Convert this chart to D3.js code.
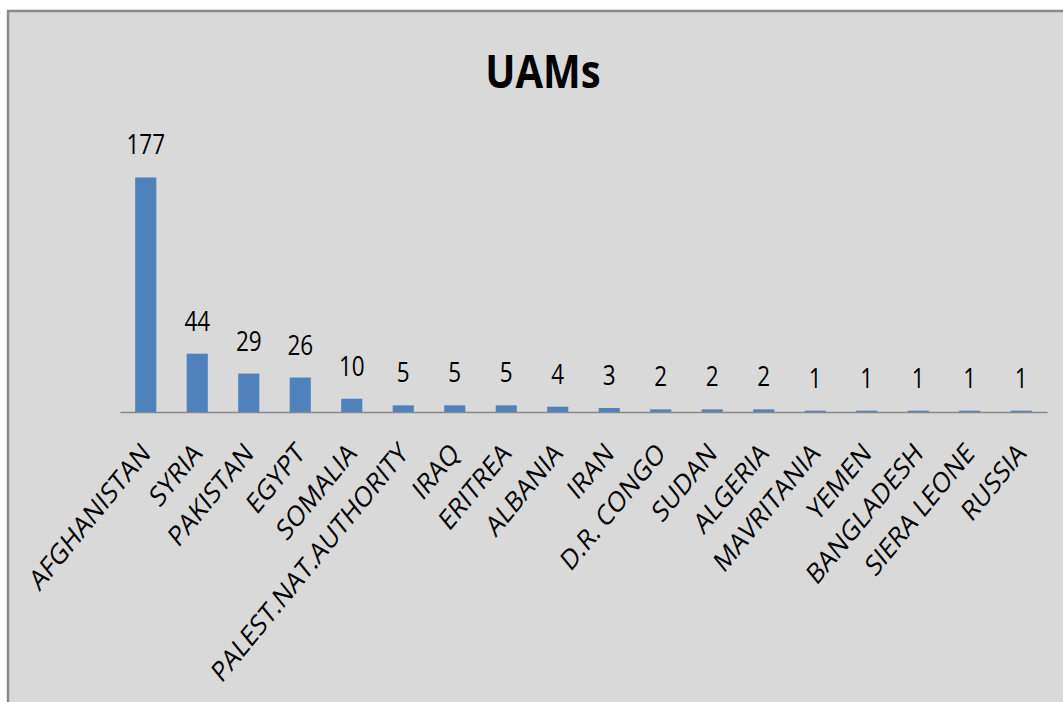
<!DOCTYPE html>
<html>
<head>
<meta charset="utf-8">
<script src="https://cdn.jsdelivr.net/npm/d3@7"></script>
<style>
  body { margin: 0; background: #fff; }
  text { font-family: "Open Sans", sans-serif; fill: #000; }
</style>
</head>
<body>
<div id="chart"></div>
<script>
(function () {
    'use strict';
    var width = 1063;
    var height = 702;

    var countries = ['AFGHANISTAN', 'SYRIA', 'PAKISTAN', 'EGYPT', 'SOMALIA',
        'PALEST.NAT.AUTHORITY', 'IRAQ', 'ERITREA', 'ALBANIA', 'IRAN',
        'D.R. CONGO', 'SUDAN', 'ALGERIA', 'MAVRITANIA', 'YEMEN',
        'BANGLADESH', 'SIERA LEONE', 'RUSSIA'];
    var uams = [177, 44, 29, 26, 10, 5, 5, 5, 4, 3, 2, 2, 2, 1, 1, 1, 1, 1];
    var title = 'UAMs';

    var data = countries.map(function (c, i) {
        return { name: c, value: uams[i] };
    });

    var svg = d3.select('#chart')
        .append('svg')
        .attr('width', width)
        .attr('height', height);

    // chart area background + top/left frame
    svg.append('rect')
        .attr('x', 8).attr('y', 11)
        .attr('width', width).attr('height', height)
        .attr('fill', '#d9d9d9');
    svg.append('line')
        .attr('x1', 7).attr('x2', width).attr('y1', 11).attr('y2', 11)
        .attr('stroke', '#8a8a8a').attr('stroke-width', 2.5);
    svg.append('line')
        .attr('x1', 8).attr('x2', 8).attr('y1', 10).attr('y2', height)
        .attr('stroke', '#8a8a8a').attr('stroke-width', 2.5);

    var x = d3.scaleBand()
        .domain(countries)
        .range([120, 1047])
        .paddingInner(0.59)
        .paddingOuter(0.295);
    var y = d3.scaleLinear().domain([0, 200]).range([412, 147]);

    var stretch = 1.18;

    svg.append('text')
        .attr('transform', 'translate(543,88) scale(1,' + stretch + ')')
        .attr('text-anchor', 'middle')
        .style('font-size', '40px')
        .style('font-weight', 'bold')
        .text(title);

    svg.selectAll('rect.bar')
        .data(data)
        .enter()
        .append('rect')
        .attr('class', 'bar')
        .attr('x', function (d) { return x(d.name); })
        .attr('y', function (d) { return y(d.value); })
        .attr('width', x.bandwidth())
        .attr('height', function (d) { return y(0) - y(d.value); })
        .attr('fill', '#4f81bd');

    // axis line
    var axis = d3.axisBottom(x).tickSize(0).tickFormat('');
    var ax = svg.append('g')
        .attr('transform', 'translate(0,' + y(0) + ')')
        .call(axis);
    ax.select('.domain').attr('stroke', '#898989').attr('stroke-width', 1.5);

    svg.selectAll('text.val')
        .data(data)
        .enter()
        .append('text')
        .attr('class', 'val')
        .attr('transform', function (d) {
            var cx = x(d.name) + x.bandwidth() / 2;
            return 'translate(' + cx + ',' + (y(d.value) - 23) + ') scale(1,' + stretch + ')';
        })
        .attr('text-anchor', 'middle')
        .style('font-size', '22.5px')
        .text(function (d) { return d.value; });

    svg.selectAll('text.cat')
        .data(data)
        .enter()
        .append('text')
        .attr('class', 'cat')
        .attr('transform', function (d) {
            var cx = x(d.name) + x.bandwidth() / 2;
            return 'translate(' + (cx + 6) + ',455) scale(1,1.22) rotate(-45)';
        })
        .attr('text-anchor', 'end')
        .style('font-size', '23.5px')
        .text(function (d) { return d.name; });
}());
</script>
</body>
</html>
